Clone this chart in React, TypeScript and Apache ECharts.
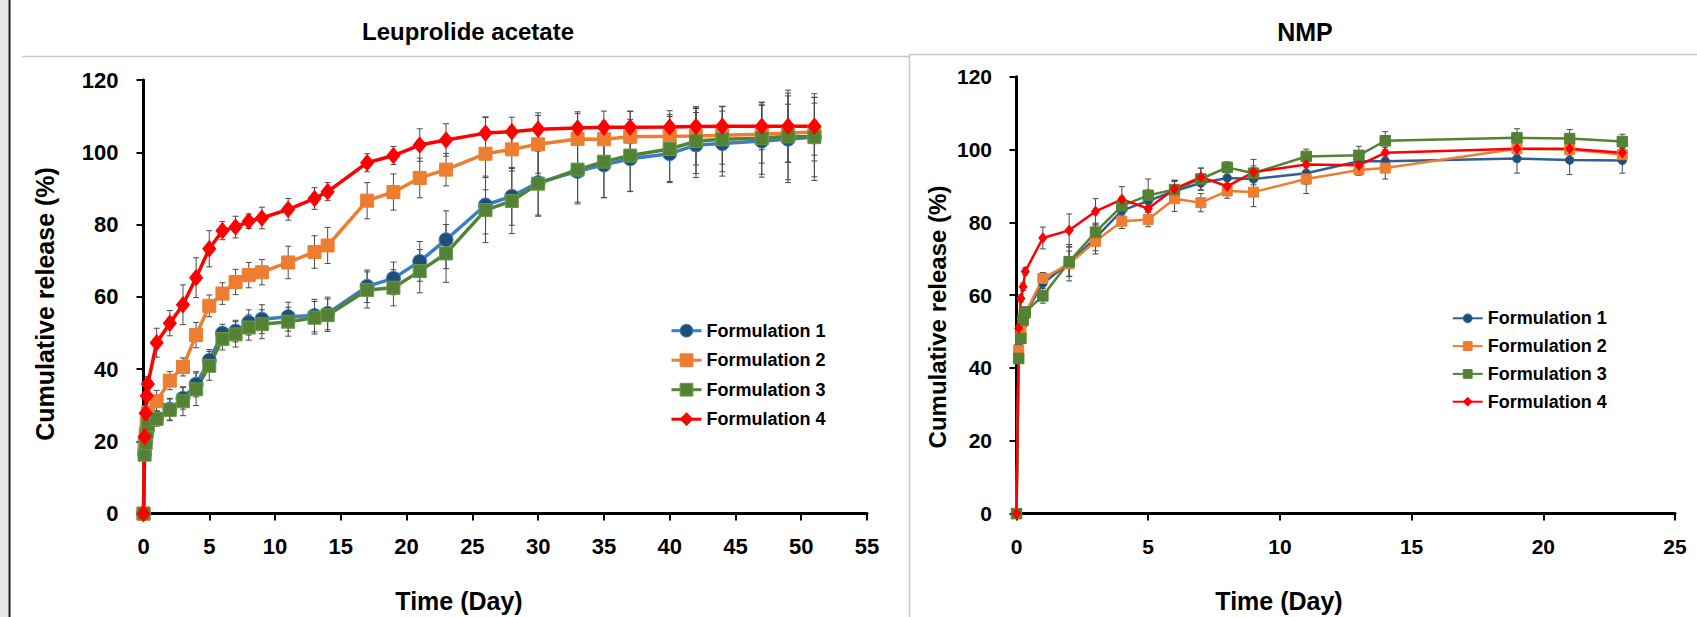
import React, { useEffect, useRef } from "react";
import * as echarts from "echarts";

// ---------- Data: Leuprolide acetate ----------
const leuTime = [0, 0.083, 0.167, 0.25, 0.333, 1, 2, 3, 4, 5, 6, 7, 8, 9, 11, 13, 14, 17, 19, 21, 23, 26, 28, 30, 33, 35, 37, 40, 42, 44, 47, 49, 51];
const leuF1 = [0, 16.5, 20, 22.5, 24.5, 26.5, 28.9, 31.9, 35.8, 42.4, 49.9, 50.5, 52.9, 53.8, 54.5, 54.8, 55.4, 62.9, 65.1, 69.8, 75.8, 85.4, 87.8, 91.6, 94.7, 96.5, 98.2, 99.6, 102.0, 102.4, 103.1, 103.6, 104.2];
const leuF2 = [0, 19, 22, 25, 28, 31.1, 36.8, 40.6, 49.4, 57.5, 60.9, 64.1, 66.0, 66.8, 69.5, 72.4, 74.2, 86.6, 89.0, 92.9, 95.2, 99.6, 100.8, 102.2, 103.7, 103.6, 104.3, 104.4, 104.5, 104.7, 105.0, 105.3, 105.6];
const leuF3 = [0, 16.3, 19.5, 22.7, 24.5, 26.2, 28.7, 31.1, 34.4, 40.9, 48.3, 49.6, 51.5, 52.4, 53.1, 54.2, 54.9, 61.9, 62.5, 67.1, 72.0, 84.0, 86.5, 91.3, 95.2, 97.4, 99.1, 100.9, 103.1, 103.6, 103.9, 104.4, 104.2];
const leuF4 = [0, 21.3, 27.8, 32.6, 35.9, 47.3, 52.7, 57.8, 65.3, 73.3, 78.3, 79.3, 80.9, 81.8, 84.2, 87.2, 89.1, 97.1, 99.1, 102.0, 103.4, 105.3, 105.7, 106.4, 106.7, 106.9, 106.9, 107.0, 107.1, 107.2, 107.2, 107.2, 107.2];
const leuF1Err = [0, 1.5, 1.5, 1.5, 1.5, 2, 3, 3, 3.5, 3, 2.5, 3, 3.5, 4, 4, 4.5, 4.5, 4.5, 4.5, 5.5, 8, 8, 8, 9, 9, 9, 9, 8, 9, 9, 10, 12, 11];
const leuF2Err = [0, 1.5, 1.5, 1.5, 1.5, 3, 2.5, 2.5, 3.5, 3, 3, 3.5, 3.5, 3.5, 4.5, 4.5, 5, 5, 5, 5.5, 4.5, 10, 6, 8, 7, 5, 7, 6, 8, 8, 8, 8, 8];
const leuF3Err = [0, 1.5, 1.5, 1.5, 1.5, 2, 3, 4, 4.5, 4, 3, 3.5, 3.5, 4, 4, 4.5, 4.5, 5, 5, 6, 8, 9, 9, 9, 9, 10, 10, 9, 9, 9, 10, 12, 12];
const leuF4Err = [0, 2, 2, 2, 2, 4, 3.5, 5.5, 5.5, 5, 2.5, 3, 2, 3, 3, 3, 2.5, 2.5, 2.5, 4.5, 4.5, 4.5, 4, 4.5, 4.5, 4.5, 4.5, 4.5, 5.5, 5.5, 6.5, 10, 8];

// ---------- Data: NMP ----------
const nmpTime = [0, 0.083, 0.167, 0.25, 0.333, 1, 2, 3, 4, 5, 6, 7, 8, 9, 11, 13, 14, 19, 21, 23];
const nmpF1 = [0, 45.9, 49, 52, 55, 63.2, 68.9, 75.7, 83.2, 85.9, 88.6, 90.8, 92.2, 91.9, 93.5, 96.8, 96.8, 97.5, 97.1, 97.0];
const nmpF2 = [0, 44.9, 50, 53, 55, 64.6, 68.6, 74.8, 80.3, 80.8, 86.5, 85.4, 88.6, 88.3, 91.9, 94.4, 94.9, 100.2, 100.0, 98.6];
const nmpF3 = [0, 42.6, 48.1, 53.2, 55.4, 59.8, 69.2, 77.3, 84.5, 87.4, 89.0, 91.9, 95.1, 93.5, 98.1, 98.4, 102.4, 103.2, 103.0, 102.2];
const nmpF4 = [0, 50.9, 59.1, 62.3, 66.5, 75.7, 77.8, 83.0, 86.3, 83.8, 89.2, 92.4, 89.9, 93.8, 95.9, 95.7, 99.1, 100.2, 100.2, 99.1];
const nmpF1Err = [0, 1, 1, 1, 1, 3, 5, 3.5, 3, 3, 3, 2, 2, 3, 3, 2, 2, 4, 4, 3.5];
const nmpF2Err = [0, 1, 1, 1, 1, 1.5, 3.5, 3.5, 2, 2, 3.5, 2.5, 2, 4, 4, 1.5, 3, 1.5, 1.5, 1.5];
const nmpF3Err = [0, 1, 1, 1, 1, 2, 4, 2.5, 2.5, 4.5, 2.5, 3, 1.5, 2, 2, 2.5, 2.5, 2.5, 2.5, 2];
const nmpF4Err = [0, 1, 1, 1, 1, 3, 4.5, 3.5, 3.5, 2, 2, 2.5, 2, 3.5, 2, 1.5, 1.5, 1.5, 1.5, 1.5];

const seriesNames = ["Formulation 1", "Formulation 2", "Formulation 3", "Formulation 4"];
const yTicks = { min: 0, max: 120, interval: 20 };
const leuX = { min: 0, max: 55, interval: 5 };
const nmpX = { min: 0, max: 25, interval: 5 };

const FONT = "'Liberation Sans', Arial, Helvetica, sans-serif";

const pair = (t: number[], v: number[]) => t.map((x, i) => [x, v[i]]);
const errData = (t: number[], v: number[], e: number[]) =>
  t.map((x, i) => [x, v[i] - e[i], v[i] + e[i], e[i]]).filter((d) => d[3] > 0);

function errorSeries(data: number[][], idx: number) {
  return {
    type: "custom",
    xAxisIndex: idx,
    yAxisIndex: idx,
    z: 1,
    silent: true,
    encode: { x: 0, y: [1, 2] },
    data,
    renderItem: (params: any, api: any) => {
      const x = api.value(0);
      const top = api.coord([x, api.value(2)]);
      const bot = api.coord([x, api.value(1)]);
      const w = 3;
      const st = { stroke: "#4a4a4a", lineWidth: 1 };
      return {
        type: "group",
        children: [
          { type: "line", shape: { x1: top[0], y1: top[1], x2: bot[0], y2: bot[1] }, style: st },
          { type: "line", shape: { x1: top[0] - w, y1: top[1], x2: top[0] + w, y2: top[1] }, style: st },
          { type: "line", shape: { x1: bot[0] - w, y1: bot[1], x2: bot[0] + w, y2: bot[1] }, style: st },
        ],
      };
    },
  };
}

const leftStyles = [
  { symbol: "circle", size: 14, line: "#3A7FC4", fill: "#1F4E79", border: "#3A7FC4" },
  { symbol: "rect", size: 13, line: "#ED7D31", fill: "#ED7D31", border: "#ED7D31" },
  { symbol: "rect", size: 13, line: "#548235", fill: "#548235", border: "#6A9A45" },
  { symbol: "diamond", size: [13, 16], line: "#FF0000", fill: "#FF0000", border: "#FF0000" },
];
const rightStyles = [
  { symbol: "circle", size: 8.5, line: "#2F5F95", fill: "#1F4E79", border: "#2F5F95" },
  { symbol: "rect", size: 10, line: "#ED7D31", fill: "#ED7D31", border: "#ED7D31" },
  { symbol: "rect", size: 10.5, line: "#548235", fill: "#548235", border: "#548235" },
  { symbol: "diamond", size: [8, 10], line: "#FF0000", fill: "#FF0000", border: "#FF0000" },
];

function lineSeries(name: string, data: number[][], idx: number, s: any, lw: number) {
  return {
    type: "line",
    name,
    xAxisIndex: idx,
    yAxisIndex: idx,
    z: 2,
    data,
    symbol: s.symbol,
    symbolSize: s.size,
    showAllSymbol: true,
    lineStyle: { color: s.line, width: lw },
    itemStyle: { color: s.fill, borderColor: s.border, borderWidth: 1 },
    emphasis: { disabled: true },
  };
}

function axisCommon(fontSize: number, margin: number) {
  return {
    axisLine: { show: true, onZero: false, lineStyle: { color: "#000", width: 3 } },
    axisTick: { show: true, length: 7, lineStyle: { color: "#000", width: 2 } },
    axisLabel: { color: "#000", fontSize, fontWeight: "bold", fontFamily: FONT, margin },
    splitLine: { show: false },
  };
}

function legendFor(left: number, top: number, itemHeight: number, gap: number, styles: any[], lw: number, fs: number) {
  return {
    orient: "vertical",
    left,
    top,
    padding: 0,
    itemWidth: 30,
    itemHeight,
    itemGap: gap,
    selectedMode: false,
    textStyle: { fontSize: fs, fontWeight: "bold", fontFamily: FONT, color: "#000", lineHeight: 20 },
    data: seriesNames.map((n, i) => ({
      name: n,
      itemStyle: { color: styles[i].fill, borderColor: styles[i].border, borderWidth: 1 },
      lineStyle: { color: styles[i].line, width: lw },
    })),
  };
}

const text = (x: number, y: number, t: string, size: number, rot = 0) => ({
  type: "text",
  x,
  y,
  rotation: rot,
  silent: true,
  style: {
    text: t,
    fill: "#000",
    fontSize: size,
    fontWeight: "bold",
    fontFamily: FONT,
    align: "center",
    verticalAlign: "middle",
  },
});

export default function App() {
  const ref = useRef<HTMLDivElement>(null);
  useEffect(() => {
    if (!ref.current) return;
    const chart = echarts.init(ref.current, null, { renderer: "svg" });
    const leuVals = [leuF1, leuF2, leuF3, leuF4];
    const leuErrs = [leuF1Err, leuF2Err, leuF3Err, leuF4Err];
    const nmpVals = [nmpF1, nmpF2, nmpF3, nmpF4];
    const nmpErrs = [nmpF1Err, nmpF2Err, nmpF3Err, nmpF4Err];

    const series: any[] = [];
    leuVals.forEach((v, i) => series.push(errorSeries(errData(leuTime, v, leuErrs[i]), 0)));
    nmpVals.forEach((v, i) => series.push(errorSeries(errData(nmpTime, v, nmpErrs[i]), 1)));
    leuVals.forEach((v, i) => series.push(lineSeries(seriesNames[i], pair(leuTime, v), 0, leftStyles[i], 3.5)));
    nmpVals.forEach((v, i) => series.push(lineSeries(seriesNames[i], pair(nmpTime, v), 1, rightStyles[i], 2.5)));

    chart.setOption({
      animation: false,
      backgroundColor: "#fff",
      grid: [
        { left: 143.5, top: 80, width: 723.5, height: 433.6 },
        { left: 1016.5, top: 76.7, width: 658.5, height: 436.9 },
      ],
      xAxis: [
        { type: "value", gridIndex: 0, ...leuX, ...axisCommon(22, 22) },
        { type: "value", gridIndex: 1, ...nmpX, ...axisCommon(21, 22) },
      ],
      yAxis: [
        { type: "value", gridIndex: 0, ...yTicks, ...axisCommon(22, 25) },
        { type: "value", gridIndex: 1, ...yTicks, ...axisCommon(21, 24.5) },
      ],
      legend: [
        legendFor(670, 320.7, 16, 9.5, leftStyles, 3, 18),
        legendFor(1451.7, 308.3, 11, 7.8, rightStyles, 2, 18),
      ],
      tooltip: { show: false },
      graphic: [
        { type: "rect", shape: { x: 0, y: 0, width: 8, height: 617 }, style: { fill: "#E6E6E6" }, silent: true },
        { type: "line", shape: { x1: 9.5, y1: 0, x2: 9.5, y2: 617 }, style: { stroke: "#1a1a1a", lineWidth: 2 }, silent: true },
        { type: "line", shape: { x1: 22, y1: 56.5, x2: 909, y2: 56.5 }, style: { stroke: "#C8C8C8", lineWidth: 1.5 }, silent: true },
        { type: "line", shape: { x1: 909, y1: 54.5, x2: 1697, y2: 54.5 }, style: { stroke: "#C8C8C8", lineWidth: 1.5 }, silent: true },
        { type: "line", shape: { x1: 909.5, y1: 54.5, x2: 909.5, y2: 617 }, style: { stroke: "#C8C8C8", lineWidth: 1.5 }, silent: true },
        text(468, 31.5, "Leuprolide acetate", 24),
        text(1305, 31.5, "NMP", 25),
        text(45, 304, "Cumulative release (%)", 25, Math.PI / 2),
        text(937, 317, "Cumulative release (%)", 24, Math.PI / 2),
        text(459, 601, "Time (Day)", 25),
        text(1279, 601, "Time (Day)", 25),
      ],
      series,
    });
    return () => chart.dispose();
  }, []);
  return (
    <div
      ref={ref}
      style={{ position: "absolute", left: 0, top: 0, width: 1697, height: 617, background: "#fff" }}
    />
  );
}
